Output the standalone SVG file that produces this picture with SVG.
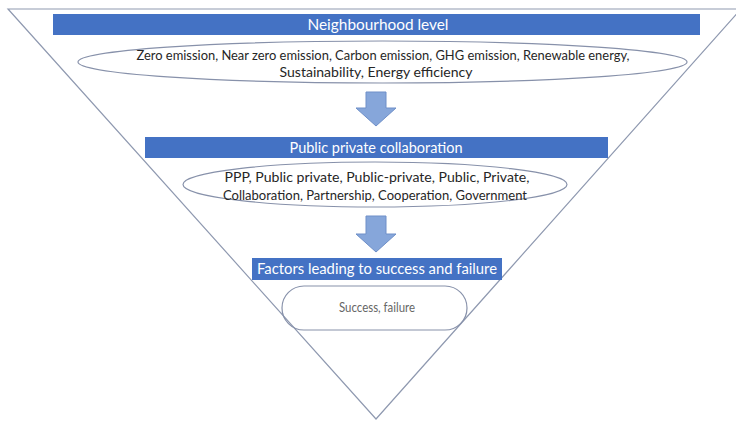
<svg xmlns="http://www.w3.org/2000/svg" width="736" height="421" viewBox="0 0 736 421">
<style>
.bar{fill:#4472C4;}
.bt{fill:#ffffff;font-family:Lato,"Open Sans",sans-serif;text-anchor:middle;}
.ov{fill:none;stroke:#8791AA;stroke-width:1.2;}
.tx{fill:#262626;font-family:Lato,"Open Sans",sans-serif;font-size:13px;text-anchor:middle;}
.arr{fill:#86A6DA;stroke:#6E8FC8;stroke-width:1;}
</style>
<rect width="736" height="421" fill="#ffffff"/>
<g id="funnel">
<polygon points="8,9 741,9 376,419" fill="#ffffff" stroke="#8F99B0" stroke-width="1.2"/>
</g>
<g id="node-neighbourhood">
<rect class="bar" x="53" y="14" width="647" height="21"/>
<text class="bt" x="378" y="29.5" font-size="14.5" textLength="141" lengthAdjust="spacingAndGlyphs">Neighbourhood level</text>
</g>
<g id="node-keywords1">
<ellipse class="ov" cx="382.5" cy="62" rx="304.5" ry="21"/>
<text class="tx" x="383" y="59.5" textLength="493" lengthAdjust="spacingAndGlyphs">Zero emission, Near zero emission, Carbon emission, GHG emission, Renewable energy,</text>
<text class="tx" x="376" y="76.5" textLength="193" lengthAdjust="spacingAndGlyphs">Sustainability, Energy efficiency</text>
</g>
<g id="node-ppc">
<rect class="bar" x="145" y="137" width="463" height="21"/>
<text class="bt" x="376" y="152.5" font-size="14.5" textLength="173" lengthAdjust="spacingAndGlyphs">Public private collaboration</text>
</g>
<g id="node-keywords2">
<ellipse class="ov" cx="375" cy="184.5" rx="192" ry="22.5"/>
<text class="tx" x="377" y="181.5" textLength="305" lengthAdjust="spacingAndGlyphs">PPP, Public private, Public-private, Public, Private,</text>
<text class="tx" x="375" y="199.5" textLength="304" lengthAdjust="spacingAndGlyphs">Collaboration, Partnership, Cooperation, Government</text>
</g>
<g id="node-factors">
<rect class="bar" x="252" y="258" width="250" height="22"/>
<text class="bt" x="377" y="274" font-size="15" textLength="240" lengthAdjust="spacingAndGlyphs">Factors leading to success and failure</text>
</g>
<g id="node-keywords3">
<rect class="ov" x="282" y="286" width="185" height="44" rx="22" ry="22"/>
<text class="tx" x="377" y="312" style="fill:#666666" textLength="76" lengthAdjust="spacingAndGlyphs">Success, failure</text>
</g>
<g id="connectors">
<path class="arr" d="M366,92 H386 V108 H396 L376,126 L356,108 H366 Z"/>
<path class="arr" d="M366,216 H386 V234 H396 L376,252 L356,234 H366 Z"/>
</g>
</svg>
